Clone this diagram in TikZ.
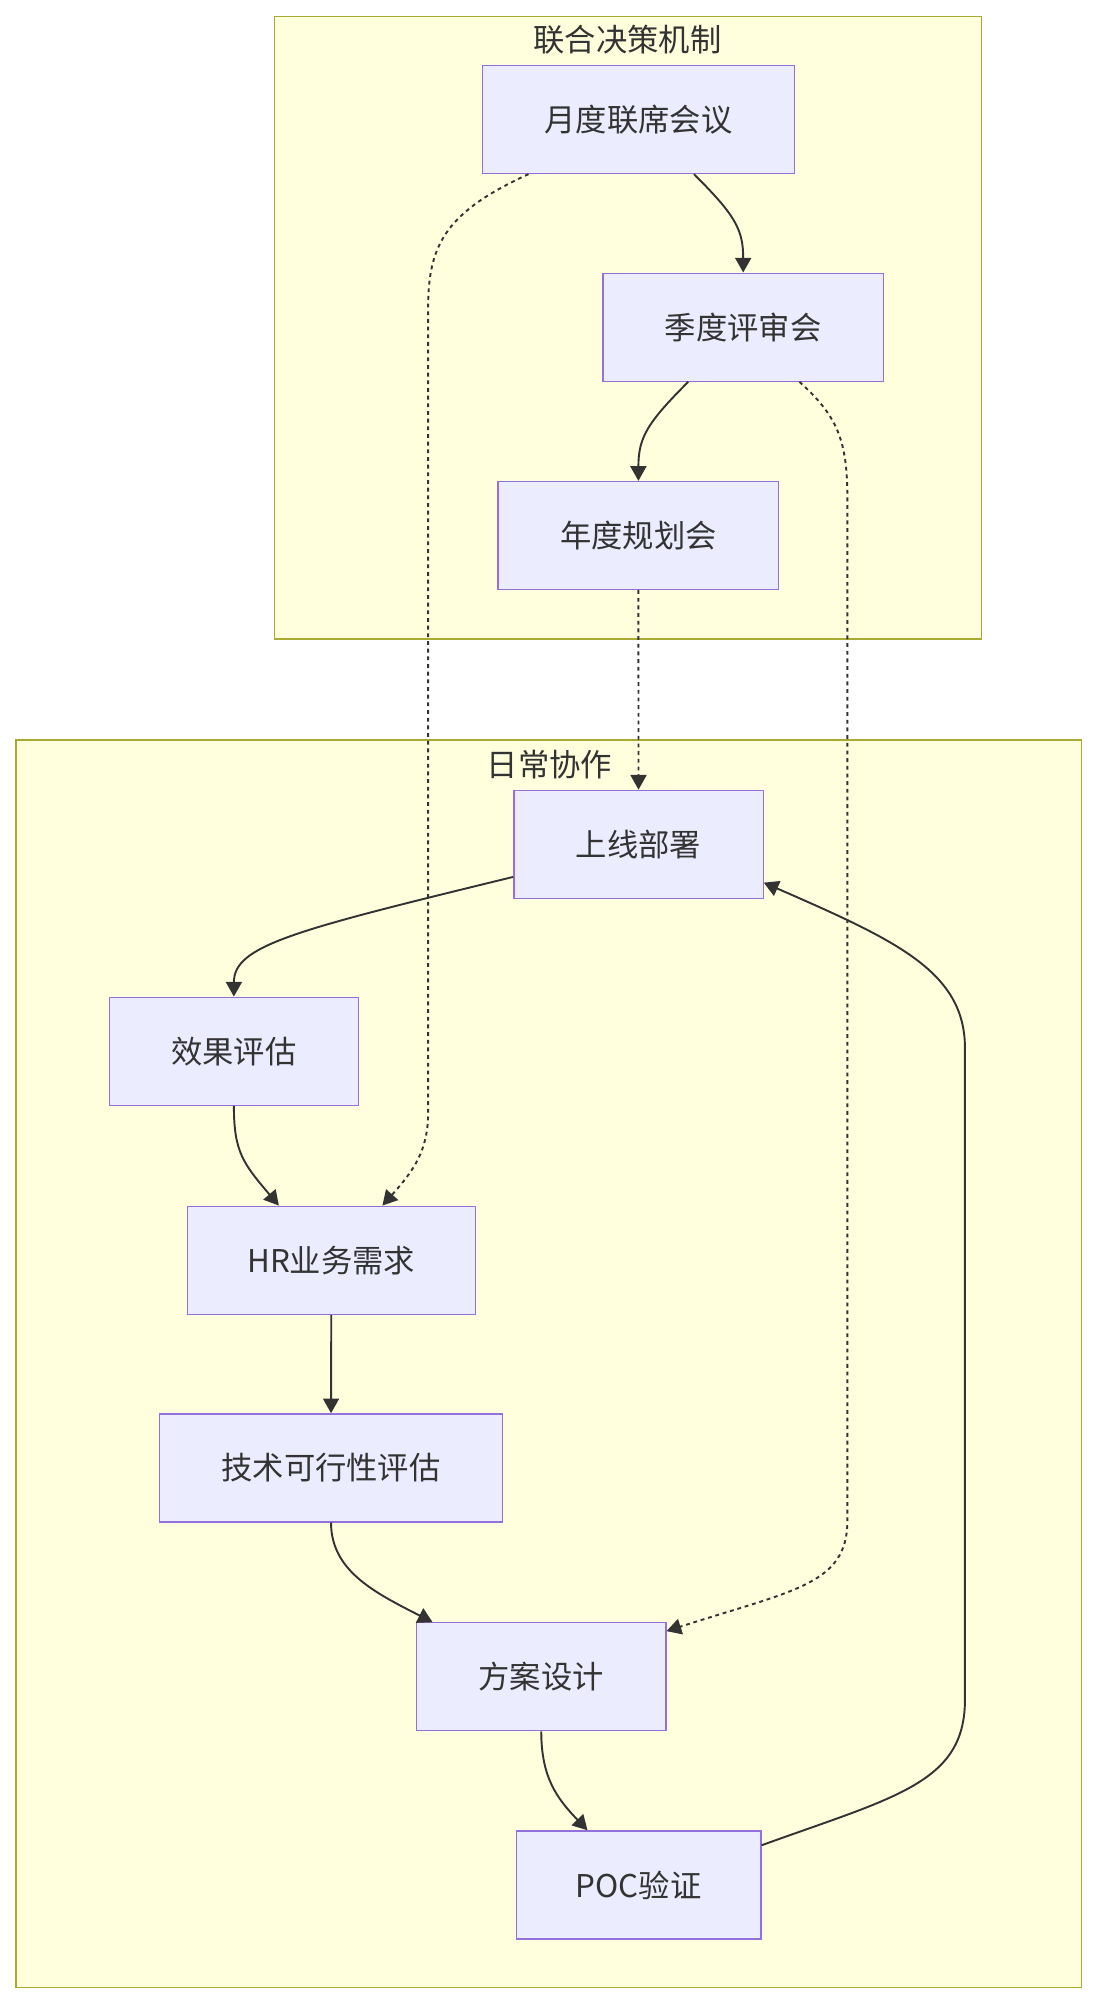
\documentclass[tikz,border=0pt]{standalone}
\usepackage{fontspec}
\setmainfont{Noto Sans CJK SC}
\usepackage{xcolor}
\usetikzlibrary{positioning,calc,arrows.meta}

\definecolor{clusterfill}{HTML}{FFFFDE}
\definecolor{clusterline}{HTML}{AAAA33}
\definecolor{procfill}{HTML}{ECECFF}
\definecolor{procline}{HTML}{9370DB}
\definecolor{inkgray}{HTML}{333333}

\tikzset{
  proc/.style={draw=procline, fill=procfill, line width=1pt, minimum height=84.5pt,
    inner xsep=48.5pt, text=inkgray, font=\fontsize{24.5}{30}\selectfont},
  cluster/.style={draw=clusterline, fill=clusterfill, line width=1pt},
  clustertitle/.style={text=inkgray, inner sep=0pt, font=\fontsize{24.5}{30}\selectfont},
  flow/.style={draw=inkgray, line width=1.5pt, -{Triangle[length=11.5pt,width=12.5pt]}},
  dotflow/.style={flow, dash pattern=on 3pt off 3pt},
}

\begin{document}
\begin{tikzpicture}[x=1pt, y=-1pt]
  \useasboundingbox (0,0) rectangle (858,1568);

  % Clusters
  \draw[cluster] (215,13) rectangle (768,500);
  \node[clustertitle] (jointtitle) at (491,31) {联合决策机制};
  \draw[cluster] (12.5,579) rectangle (846,1555);
  \node[clustertitle] (dailytitle) at (430,598) {日常协作};

  % Joint decision meetings
  \node[proc] (monthly) at (499.5,93.5) {月度联席会议};
  \node[proc] (quarterly) at (581.5,256) {季度评审会};
  \node[proc] (annual) at (499.5,419) {年度规划会};

  % Daily collaboration
  \node[proc] (deploy) at (499.6,660.6) {上线部署};
  \node[proc] (effect) at (183,822.5) {效果评估};
  \node[proc, inner xsep=47pt] (hr) at (259.2,986) {HR业务需求};
  \node[proc] (tech) at (259,1148.5) {技术可行性评估};
  \node[proc] (design) at (423.5,1312) {方案设计};
  \node[proc, inner xsep=46.5pt] (poc) at (499.7,1474.8) {POC验证};

  % Solid flows
  \draw[flow] ([xshift=43.5]monthly.south) .. controls +(32,32) and +(0,-34) .. (quarterly.north);
  \draw[flow] ([xshift=-43]quarterly.south) .. controls +(-32,32) and +(0,-34) .. (annual.north);
  \draw[flow] ([yshift=-25.5]deploy.west) .. controls +(-172,42) and +(0,-40) .. (effect.north);
  \draw[flow] (effect.south) .. controls +(0,36) and +(-28,-33) .. ([xshift=-41]hr.north);
  \draw[flow] (hr.south) -- (tech.north);
  \draw[flow] (tech.south) .. controls +(0,38) and +(-45,-23) .. ([xshift=-85]design.north);
  \draw[flow] (design.south) .. controls +(0,36) and +(-24,-25) .. ([xshift=-40]poc.north);
  \draw[flow] ([yshift=31]poc.east) .. controls +(105,-38) and +(0,65) .. (755,1330)
    -- (755,820) .. controls +(0,-60) and +(103,45) .. ([yshift=-30]deploy.east);

  % Dotted flows
  \draw[dotflow] ([xshift=-86]monthly.south) .. controls +(-63,29) and +(0,-50) .. (335,240)
    -- (335,870) .. controls +(0,30) and +(25,-28) .. ([xshift=40]hr.north);
  \draw[dotflow] ([xshift=44]quarterly.south) .. controls +(30,27) and +(0,-45) .. (663,390)
    -- (663,1190) .. controls +(0,50) and +(99,-32) .. ([yshift=-7]design.north east);
  \draw[dotflow] (annual.south) -- (deploy.north);
\end{tikzpicture}
\end{document}
